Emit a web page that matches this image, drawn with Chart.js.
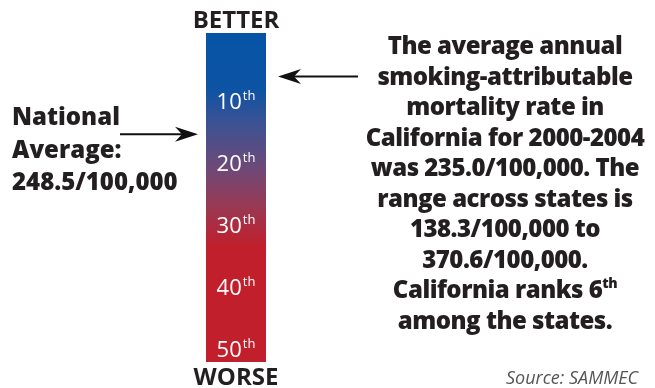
<!DOCTYPE html>
<html>
<head>
<meta charset="utf-8">
<script src="https://cdn.jsdelivr.net/npm/chart.js@4.4.1/dist/chart.umd.min.js"></script>
<style>
  html, body { margin: 0; padding: 0; background: #fff; }
  #wrap { position: relative; width: 655px; height: 388px; overflow: hidden; }
  #c { position: absolute; left: 0; top: 0; }
  .t { position: absolute; font-family: "Open Sans", "Noto Sans", sans-serif; color: #231f20; white-space: nowrap; }
  #better, #worse { font-weight: 700; font-size: 24px; width: 120px; text-align: center; left: 176px; letter-spacing: 0px; }
  #better { top: 2px; }
  #worse { top: 359px; }
  #natl { left: 12px; top: 100px; font-weight: 800; font-size: 24px; line-height: 32.5px; letter-spacing: 0px; }
  #desc { left: 345px; width: 320px; top: 30px; text-align: center; font-weight: 800; font-size: 24px; line-height: 30.5px; letter-spacing: -0.5px; }
  #desc sup { font-size: 14px; line-height: 0; vertical-align: 10px; }
  #src { left: 506px; top: 365px; font-style: italic; font-size: 18px; color: #555; letter-spacing: 0px; }
</style>
</head>
<body>
<div id="wrap">
  <canvas id="c" width="655" height="388"></canvas>
  <div class="t" id="better">BETTER</div>
  <div class="t" id="worse">WORSE</div>
  <div class="t" id="natl">National<br>Average:<br>248.5/100,000</div>
  <div class="t" id="desc">The average annual<br>smoking-attributable<br>mortality rate in<br>California for 2000-2004<br>was 235.0/100,000. The<br>range across states is<br>138.3/100,000 to<br>370.6/100,000.<br>California ranks 6<sup>th</sup><br>among the states.</div>
  <div class="t" id="src">Source: SAMMEC</div>
</div>
<script>
// ---- data ----
const categories = ["State rank"];
const barRange = [-1, 52];              // extent of the rank bar (rank units)
const rankTicks = [10, 20, 30, 40, 50]; // labelled ranks
const rankSuffix = ["th", "th", "th", "th", "th"];
const californiaRank = 6;
const nationalRank = 15.3;              // position of the national average on the rank scale

const gradientPlugin = {
  id: 'rankDecor',
  afterDatasetsDraw(chart) {
    const ctx = chart.ctx;
    const y = chart.scales.y;
    const area = chart.chartArea;
    const cx = (area.left + area.right) / 2;
    // rank labels
    ctx.save();
    ctx.fillStyle = '#ffffff';
    ctx.textBaseline = 'middle';
    rankTicks.forEach((r, i) => {
      const py = y.getPixelForValue(r);
      const num = String(r);
      ctx.font = '400 22px "Open Sans", sans-serif';
      const wNum = ctx.measureText(num).width;
      ctx.font = '400 13px "Open Sans", sans-serif';
      const wSup = ctx.measureText(rankSuffix[i]).width;
      const x0 = cx - (wNum + wSup + 1) / 2;
      ctx.font = '400 22px "Open Sans", sans-serif';
      ctx.textAlign = 'left';
      ctx.fillText(num, x0, py + 1);
      ctx.font = '400 13px "Open Sans", sans-serif';
      ctx.fillText(rankSuffix[i], x0 + wNum + 1, py - 5);
    });
    ctx.restore();
    // arrows
    const drawArrow = (x1, x2, py) => {
      const dir = Math.sign(x2 - x1);
      ctx.save();
      ctx.strokeStyle = '#111';
      ctx.fillStyle = '#111';
      ctx.lineWidth = 2;
      ctx.beginPath();
      ctx.moveTo(x1, py);
      ctx.lineTo(x2 - dir * 10, py);
      ctx.stroke();
      ctx.beginPath();
      ctx.moveTo(x2, py);
      ctx.lineTo(x2 - dir * 23, py - 7.5);
      ctx.lineTo(x2 - dir * 16, py);
      ctx.lineTo(x2 - dir * 23, py + 7.5);
      ctx.closePath();
      ctx.fill();
      ctx.restore();
    };
    drawArrow(area.left - 86, area.left - 8, y.getPixelForValue(nationalRank));
    drawArrow(area.right + 92, area.right + 12, y.getPixelForValue(californiaRank));
  }
};

new Chart(document.getElementById('c'), {
  type: 'bar',
  data: {
    labels: categories,
    datasets: [{
      data: [barRange],
      borderWidth: 0,
      categoryPercentage: 1,
      barPercentage: 1,
      backgroundColor: (ctx) => {
        const a = ctx.chart.chartArea;
        if (!a) return '#c11f2b';
        const g = ctx.chart.ctx.createLinearGradient(0, a.top, 0, a.bottom);
        g.addColorStop(0, '#0654a6');
        g.addColorStop(0.17, '#0d53a4');
        g.addColorStop(0.27, '#3a5294');
        g.addColorStop(0.40, '#6a4a7a');
        g.addColorStop(0.52, '#963a56');
        g.addColorStop(0.65, '#c11f2b');
        g.addColorStop(1, '#c11f2b');
        return g;
      }
    }]
  },
  options: {
    responsive: false,
    animation: false,
    devicePixelRatio: 1,
    layout: { padding: { left: 206, right: 389, top: 33, bottom: 26 } },
    plugins: { legend: { display: false }, tooltip: { enabled: false }, title: { display: false } },
    scales: {
      x: { display: false },
      y: { display: false, reverse: true, min: barRange[0], max: barRange[1] }
    }
  },
  plugins: [gradientPlugin]
});
</script>
</body>
</html>
